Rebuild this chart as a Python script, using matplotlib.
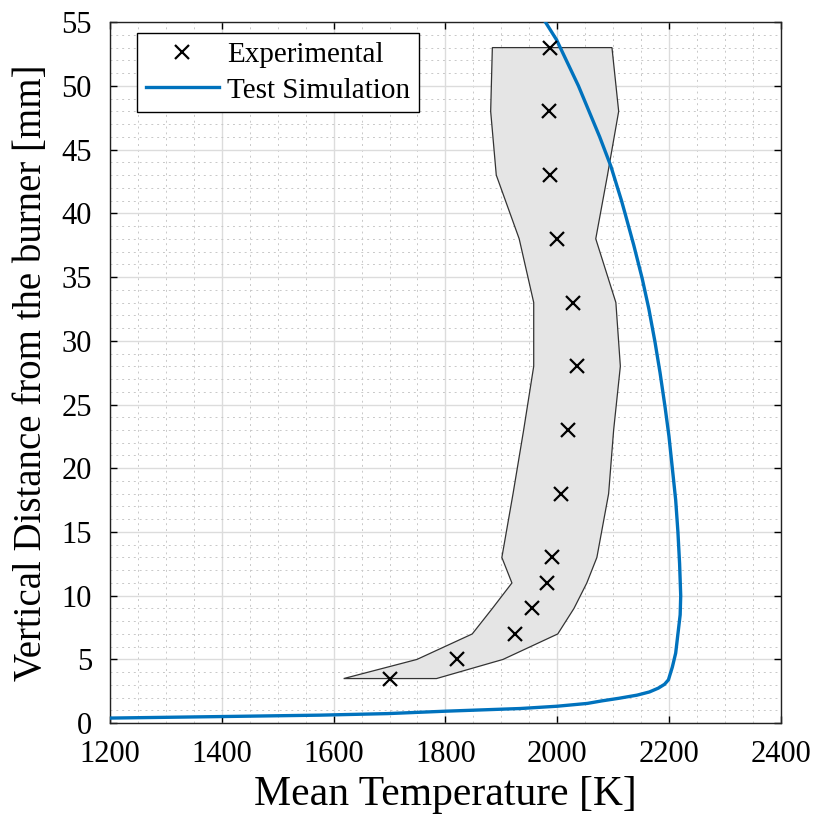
import matplotlib.pyplot as plt
import numpy as np
from matplotlib.ticker import MultipleLocator

plt.rcParams['font.family'] = ['Liberation Serif', 'DejaVu Serif']

# experimental points (mean temperature [K], height [mm])
exp_T = [1700, 1821, 1925, 1955, 1981, 1991, 2006, 2019, 2035, 2029, 2000, 1988, 1985, 1987]
exp_y = [3.5, 5, 7, 9, 11, 13, 18, 23, 28, 33, 38, 43, 48, 53]

# shaded band bounds at the same heights
band_lo = [1618, 1749, 1848, 1884, 1919, 1901, 1921, 1940, 1958, 1958, 1932, 1891, 1881, 1884]
band_hi = [1784, 1903, 2001, 2030, 2053, 2071, 2092, 2101, 2113, 2105, 2069, 2090, 2110, 2098]

# test simulation curve
sim_T = [1200, 1400, 1576, 1696, 1800, 1934, 2000, 2054, 2080, 2110, 2143, 2165, 2181, 2192,
         2199, 2206, 2212, 2216, 2220, 2221, 2219, 2216, 2212, 2206, 2200, 2193, 2184, 2175,
         2164, 2152, 2137, 2122, 2115, 2096, 2076, 2038, 1999, 1979]
sim_y = [0.40, 0.52, 0.63, 0.75, 0.94, 1.15, 1.33, 1.55, 1.75, 1.95, 2.2, 2.45, 2.75, 3.05,
         3.4, 4.4, 5.5, 7, 8.5, 10, 12.5, 15, 17.5, 20, 22.5, 24.8, 27.5, 29.9,
         32.5, 34.9, 37.5, 39.9, 41, 43.7, 46.0, 50, 53.6, 55]

fig = plt.figure(figsize=(8.15, 8.19), dpi=100)
ax = fig.add_axes([0.135, 0.117, 0.823, 0.856])

poly_T = np.concatenate([band_lo, band_hi[::-1]])
poly_y = np.concatenate([exp_y, exp_y[::-1]])
ax.fill(poly_T, poly_y, facecolor='#e5e5e5', edgecolor='#333333', linewidth=0.9, zorder=2)

ax.plot(exp_T, exp_y, 'x', color='black', markersize=10, markeredgewidth=1.6,
        label='Experimental', zorder=4)
ax.plot(sim_T, sim_y, '-', color='#0072BD', linewidth=2.4, label='Test Simulation', zorder=3)

ax.set_xlim(1200, 2400)
ax.set_ylim(0, 55)
ax.xaxis.set_major_locator(MultipleLocator(200))
ax.yaxis.set_major_locator(MultipleLocator(5))
ax.xaxis.set_minor_locator(MultipleLocator(50))
ax.yaxis.set_minor_locator(MultipleLocator(1))
ax.grid(which='major', color='#dcdcdc', linewidth=1.0, zorder=0)
ax.grid(which='minor', color='#c8c8c8', linestyle=(0, (2, 4)), linewidth=0.7, zorder=0)
ax.set_axisbelow(True)

ax.tick_params(which='major', direction='in', length=5, width=1, top=True, right=True,
               labelsize=22)
ax.tick_params(axis='x', pad=12)
ax.tick_params(axis='y', pad=13)
ax.tick_params(which='minor', length=0)
for s in ax.spines.values():
    s.set_linewidth(1.0)
    s.set_color('#222222')

ax.set_xlabel('Mean Temperature [K]', fontsize=30, labelpad=5)
ax.set_ylabel('Vertical Distance from the burner [mm]', fontsize=28, labelpad=8)

leg = ax.legend(loc='upper left', bbox_to_anchor=(0.040, 0.984), borderaxespad=0,
                fontsize=21, frameon=True, fancybox=False, edgecolor='black', framealpha=1,
                borderpad=0.3, handlelength=2.5, handletextpad=0.3, labelspacing=0.3)
leg.get_frame().set_linewidth(1.0)

fig.savefig('out.png', dpi=100)
